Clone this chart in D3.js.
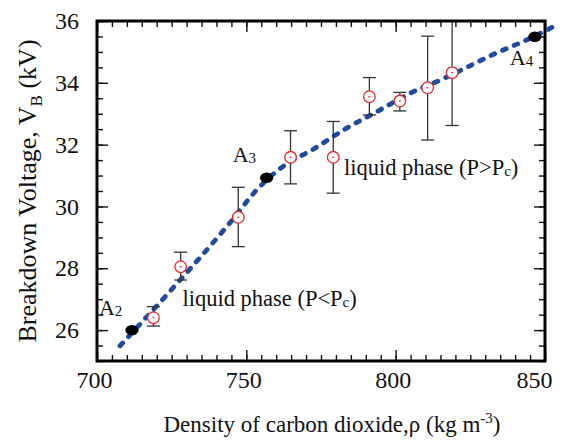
<!DOCTYPE html>
<html>
<head>
<meta charset="utf-8">
<script src="https://cdn.jsdelivr.net/npm/d3@7"></script>
<style>
  html, body { margin: 0; padding: 0; background: #fff; }
  svg { display: block; }
  text { font-family: "Liberation Serif", "Times New Roman", serif; fill: #111; }
</style>
</head>
<body>
<svg id="chart" width="566" height="444"></svg>
<script>
// Measured breakdown voltages with error bars
const density = [718.9, 728.0, 747.3, 764.8, 779.1, 791.2, 801.4, 810.7, 818.9];
const voltage = [26.40, 28.05, 29.65, 31.59, 31.59, 33.55, 33.41, 33.84, 34.33];
const voltageHigh = [26.76, 28.52, 30.62, 32.45, 32.75, 34.17, 33.69, 35.51, 36.10];
const voltageLow = [26.13, 27.62, 28.70, 30.73, 30.43, 32.96, 33.09, 32.15, 32.62];

// Reference states A2, A3, A4
const stateNames = ["A", "A", "A"];
const stateIndex = ["2", "3", "4"];
const stateDensity = [711.7, 756.8, 846.6];
const stateVoltage = [26.00, 30.93, 35.49];

// Trend curve
const trendDensity = [707.7, 725.8, 744.5, 754.0, 762.2, 772.4, 783.0, 793.8, 804.8, 815.4, 823.2, 833.8, 844.4, 852.7];
const trendVoltage = [25.49, 27.40, 29.47, 30.59, 31.29, 31.85, 32.50, 33.07, 33.66, 34.11, 34.47, 34.97, 35.41, 35.81];

// Axis ticks
const xMajor = [700, 750, 800, 850];
const yMajor = [26, 28, 30, 32, 34, 36];

const svg = d3.select("#chart");
const plotLeft = 97, plotRight = 545, plotTop = 21, plotBottom = 361;

const x = d3.scaleLinear().domain([700, 850]).range([plotLeft, plotRight]);
const y = d3.scaleLinear().domain([25, 36]).range([plotBottom, plotTop]);

const xMinor = d3.range(700, 851, 5);
const yMinor = d3.range(25, 36.01, 0.5);

const serif = '"Liberation Serif", "Times New Roman", serif';

function styleAxis(g) {
  g.select(".domain").remove();
  g.selectAll(".tick line").attr("stroke", "#111").attr("stroke-width", 1.4);
  g.selectAll(".tick text").attr("font-family", serif).attr("font-size", 24).attr("fill", "#111");
}

// Bottom axis with labels (ticks point inward)
svg.append("g").attr("transform", `translate(0,${plotBottom})`)
  .call(d3.axisBottom(x).tickValues(xMinor).tickSize(-6).tickFormat(""))
  .call(styleAxis);
svg.append("g").attr("transform", `translate(0,${plotBottom})`)
  .call(d3.axisBottom(x).tickValues(xMajor).tickSize(-11).tickPadding(10).tickFormat(d3.format("d")))
  .call(styleAxis)
  .call(g => g.selectAll(".tick text").attr("dx", d => d === 850 ? -11 : -3));

// Top axis, mirrored, no labels
svg.append("g").attr("transform", `translate(0,${plotTop})`)
  .call(d3.axisTop(x).tickValues(xMinor).tickSize(-6).tickFormat(""))
  .call(styleAxis);
svg.append("g").attr("transform", `translate(0,${plotTop})`)
  .call(d3.axisTop(x).tickValues(xMajor).tickSize(-11).tickFormat(""))
  .call(styleAxis);

// Left axis with labels
svg.append("g").attr("transform", `translate(${plotLeft},0)`)
  .call(d3.axisLeft(y).tickValues(yMinor).tickSize(-6).tickFormat(""))
  .call(styleAxis);
svg.append("g").attr("transform", `translate(${plotLeft},0)`)
  .call(d3.axisLeft(y).tickValues(yMajor).tickSize(-11).tickPadding(18).tickFormat(d3.format("d")))
  .call(styleAxis);

// Right axis, mirrored
svg.append("g").attr("transform", `translate(${plotRight},0)`)
  .call(d3.axisRight(y).tickValues(yMinor).tickSize(-6).tickFormat(""))
  .call(styleAxis);
svg.append("g").attr("transform", `translate(${plotRight},0)`)
  .call(d3.axisRight(y).tickValues(yMajor).tickSize(-11).tickFormat(""))
  .call(styleAxis);

// Plot frame
svg.append("rect")
  .attr("x", plotLeft).attr("y", plotTop)
  .attr("width", plotRight - plotLeft).attr("height", plotBottom - plotTop)
  .attr("fill", "none").attr("stroke", "#000").attr("stroke-width", 3);

svg.append("clipPath").attr("id", "plot-clip")
  .append("rect").attr("x", plotLeft).attr("y", plotTop)
  .attr("width", plotRight - plotLeft).attr("height", plotBottom - plotTop);

// Trend curve, thick blue dashes
const trend = trendDensity.map((d, i) => [d, trendVoltage[i]]);
svg.append("path")
  .datum(trend)
  .attr("fill", "none")
  .attr("stroke", "#1f4a9e")
  .attr("stroke-width", 4.8)
  .attr("stroke-linecap", "round")
  .attr("stroke-dasharray", "4 8.6")
  .attr("d", d3.line().x(d => x(d[0])).y(d => y(d[1])).curve(d3.curveMonotoneX));

// Error bars
const measured = density.map((d, i) => ({ d, v: voltage[i], hi: voltageHigh[i], lo: voltageLow[i] }));
const bars = svg.append("g").attr("clip-path", "url(#plot-clip)")
  .selectAll("g").data(measured).join("g")
  .attr("stroke", "#333").attr("stroke-width", 1.3);
bars.append("line")
  .attr("x1", p => x(p.d)).attr("x2", p => x(p.d))
  .attr("y1", p => y(p.hi)).attr("y2", p => y(p.lo));
bars.append("line")
  .attr("x1", p => x(p.d) - 6.5).attr("x2", p => x(p.d) + 6.5)
  .attr("y1", p => y(p.hi)).attr("y2", p => y(p.hi));
bars.append("line")
  .attr("x1", p => x(p.d) - 6.5).attr("x2", p => x(p.d) + 6.5)
  .attr("y1", p => y(p.lo)).attr("y2", p => y(p.lo));

// Measured points: open red circles with a centre mark
const pts = svg.append("g").selectAll("g").data(measured).join("g")
  .attr("transform", p => `translate(${x(p.d)},${y(p.v)})`);
pts.append("circle").attr("r", 5.8)
  .attr("fill", "#fff").attr("stroke", "#e8262b").attr("stroke-width", 1.3);
pts.append("line").attr("x1", -1).attr("x2", 1).attr("y1", 0).attr("y2", 0)
  .attr("stroke", "#e8262b").attr("stroke-width", 1.2);

// Reference states
const states = stateDensity.map((d, i) => ({ d, v: stateVoltage[i], name: stateNames[i], idx: stateIndex[i] }));
svg.append("g").selectAll("ellipse").data(states).join("ellipse")
  .attr("cx", s => x(s.d)).attr("cy", s => y(s.v))
  .attr("rx", 6.6).attr("ry", 5.2).attr("fill", "#000");

const stateOffset = [[-33, -15], [-34, -16], [-25, 28]];
const stateText = svg.append("g").selectAll("text").data(states).join("text")
  .attr("x", (s, i) => x(s.d) + stateOffset[i][0])
  .attr("y", (s, i) => y(s.v) + stateOffset[i][1])
  .attr("font-size", 22);
stateText.append("tspan").text(s => s.name);
stateText.append("tspan").attr("font-size", 15).attr("dy", 1).text(s => s.idx);

// Phase annotations
function phaseLabel(px, py, sign) {
  const t = svg.append("text").attr("x", px).attr("y", py).attr("font-size", 22.5);
  t.append("tspan").text(`liquid phase (P${sign}P`);
  t.append("tspan").attr("font-size", 15).attr("dy", 1).text("c");
  t.append("tspan").attr("dy", -1).text(")");
}
phaseLabel(x(728.6), y(26.78), "<");
phaseLabel(x(782.7), y(31.02), ">");

// Axis titles
const xt = svg.append("text").attr("x", 332).attr("y", 432)
  .attr("text-anchor", "middle").attr("font-size", 23);
xt.append("tspan").text("Density of carbon dioxide,\u03c1 (kg m");
xt.append("tspan").attr("font-size", 15).attr("dy", -9).text("-3");
xt.append("tspan").attr("dy", 9).text(")");

const yt = svg.append("text")
  .attr("transform", `translate(36,${(plotTop + plotBottom) / 2}) rotate(-90)`)
  .attr("text-anchor", "middle").attr("font-size", 26);
yt.append("tspan").text("Breakdown Voltage, V");
yt.append("tspan").attr("font-size", 17).attr("dy", 6).text("B");
yt.append("tspan").attr("dy", -6).text(" (kV)");
</script>
</body>
</html>
